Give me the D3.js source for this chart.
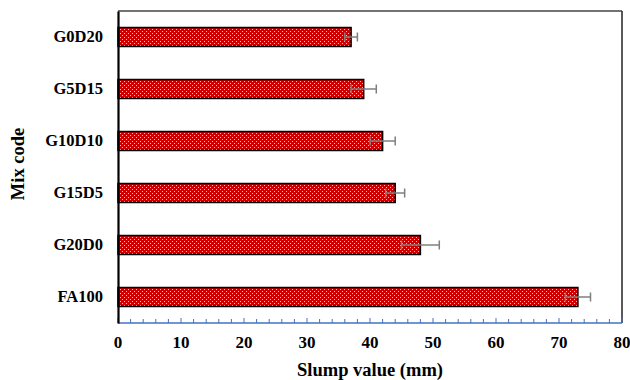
<!DOCTYPE html>
<html>
<head>
<meta charset="utf-8">
<script src="https://cdn.jsdelivr.net/npm/d3@7"></script>
<style>
  html, body { margin: 0; padding: 0; background: #fff; }
  svg { display: block; }
  text { font-family: "Liberation Serif", "Times New Roman", serif; font-weight: bold; fill: #000; }
</style>
</head>
<body>
<svg id="chart" width="630" height="380"></svg>
<script>
// Slump results per mix
const mixCodes = ["G0D20", "G5D15", "G10D10", "G15D5", "G20D0", "FA100"];
const slumpValues = [37, 39, 42, 44, 48, 73];
const slumpErrors = [1, 2, 2, 1.5, 3, 2];
const xTicks = [0, 10, 20, 30, 40, 50, 60, 70, 80];

const svg = d3.select("#chart");
const margin = { top: 11, right: 8, bottom: 57, left: 118 };
const W = 630, H = 380;
const innerW = W - margin.left - margin.right;
const innerH = H - margin.top - margin.bottom;

// dotted red fill for the bars
const defs = svg.append("defs");
const pat = defs.append("pattern")
  .attr("id", "dots").attr("patternUnits", "userSpaceOnUse")
  .attr("width", 4).attr("height", 4);
pat.append("rect").attr("width", 4).attr("height", 4).attr("fill", "#cc0000");
pat.append("rect").attr("x", 0).attr("y", 0).attr("width", 1).attr("height", 1).attr("fill", "#f6c9c9");
pat.append("rect").attr("x", 2).attr("y", 2).attr("width", 1).attr("height", 1).attr("fill", "#f6c9c9");

const g = svg.append("g").attr("transform", `translate(${margin.left},${margin.top})`);

const x = d3.scaleLinear().domain([0, 80]).range([0, innerW]);
const y = d3.scaleBand().domain(mixCodes).range([0, innerH]).paddingInner(0.635).paddingOuter(0.3175);

// frame: top and right
g.append("line").attr("x1", 0).attr("x2", innerW).attr("y1", 0).attr("y2", 0)
  .attr("stroke", "#444").attr("stroke-width", 1.5);
g.append("line").attr("x1", innerW).attr("x2", innerW).attr("y1", 0).attr("y2", innerH)
  .attr("stroke", "#222").attr("stroke-width", 1.5);

// bars
g.selectAll("rect.bar").data(mixCodes).join("rect")
  .attr("class", "bar")
  .attr("x", x(0))
  .attr("y", d => y(d))
  .attr("width", (d, i) => x(slumpValues[i]) - x(0))
  .attr("height", y.bandwidth())
  .attr("fill", "url(#dots)")
  .attr("stroke", "#000").attr("stroke-width", 1.5);

// error bars
const eb = g.selectAll("g.err").data(mixCodes).join("g").attr("class", "err")
  .attr("stroke", "#7f7f7f").attr("stroke-width", 1.5);
eb.append("line")
  .attr("x1", (d, i) => x(slumpValues[i] - slumpErrors[i]))
  .attr("x2", (d, i) => x(slumpValues[i] + slumpErrors[i]))
  .attr("y1", d => y(d) + y.bandwidth() / 2)
  .attr("y2", d => y(d) + y.bandwidth() / 2);
[-1, 1].forEach(s => {
  eb.append("line")
    .attr("x1", (d, i) => x(slumpValues[i] + s * slumpErrors[i]))
    .attr("x2", (d, i) => x(slumpValues[i] + s * slumpErrors[i]))
    .attr("y1", d => y(d) + y.bandwidth() / 2 - 4.5)
    .attr("y2", d => y(d) + y.bandwidth() / 2 + 4.5);
});

// x axis with minor ticks every 2 units, pointing inward
const xAxisG = g.append("g").attr("transform", `translate(0,${innerH})`);
xAxisG.append("line").attr("x1", 0).attr("x2", innerW).attr("y1", 0).attr("y2", 0)
  .attr("stroke", "#4472c4").attr("stroke-width", 1.5);
const minor = d3.range(0, 81, 2);
xAxisG.selectAll("line.tk").data(minor).join("line").attr("class", "tk")
  .attr("x1", d => x(d)).attr("x2", d => x(d))
  .attr("y1", 0).attr("y2", d => d % 10 === 0 ? -5 : -4)
  .attr("stroke", "#4472c4").attr("stroke-width", 1);
xAxisG.selectAll("text.tl").data(xTicks).join("text").attr("class", "tl")
  .attr("x", d => x(d)).attr("y", 25)
  .attr("text-anchor", "middle").attr("font-size", 17)
  .text(d => d);

// y axis
const yAxis = d3.axisLeft(y).tickSize(0).tickPadding(15);
const yAxisG = g.append("g").call(yAxis);
yAxisG.select(".domain").attr("stroke", "#000").attr("stroke-width", 2.2);
yAxisG.selectAll("text").attr("font-size", 16.5)
  .style("font-family", "'Liberation Serif', 'Times New Roman', serif").style("font-weight", "bold");

// axis titles
svg.append("text").attr("x", 370).attr("y", 376)
  .attr("text-anchor", "middle").attr("font-size", 18.5).text("Slump value (mm)");
svg.append("text").attr("transform", `translate(24,164)rotate(-90)`)
  .attr("text-anchor", "middle").attr("font-size", 18.5).text("Mix code");
</script>
</body>
</html>
